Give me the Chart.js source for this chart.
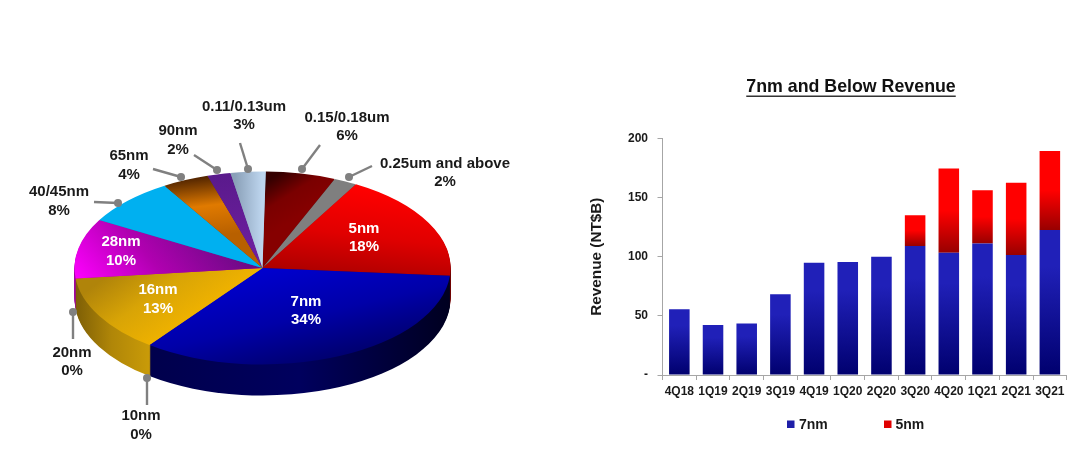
<!DOCTYPE html>
<html>
<head>
<meta charset="utf-8">
<style>
  html, body { margin: 0; padding: 0; background: #fff; overflow: hidden; }
  #page { position: relative; width: 1080px; height: 449px; }
  canvas { position: absolute; top: 0; }
  #pie-chart { left: 0; }
  #bar-chart { left: 580px; }
</style>
</head>
<body>
<div id="page">
  <canvas id="pie-chart" width="525" height="449"></canvas>
  <canvas id="bar-chart" width="500" height="449"></canvas>
</div>
<script src="https://cdn.jsdelivr.net/npm/chart.js@4"></script>
<script>
// Pie data, clockwise from 12 o'clock
const nodes = ['0.15/0.18um', '0.25um and above', '5nm', '7nm', '16nm', '20nm', '10nm', '28nm', '40/45nm', '65nm', '90nm', '0.11/0.13um'];
const shares = [6, 2, 18, 34, 13, 0, 0, 10, 8, 4, 2, 3];

// Bar data
const quarters = ['4Q18', '1Q19', '2Q19', '3Q19', '4Q19', '1Q20', '2Q20', '3Q20', '4Q20', '1Q21', '2Q21', '3Q21'];
const revenue7nm = [55.5, 42.2, 43.6, 68.2, 94.9, 95.5, 100, 109, 103.4, 111.2, 101.4, 122.5];
const revenue5nm = [0, 0, 0, 0, 0, 0, 0, 26, 71, 45, 61, 66.8];

const FONT = '"Liberation Sans", Arial, sans-serif';
const TEXT = '#1a1a1a';

// Pie is a flat Chart.js pie squashed into an ellipse and stacked for depth
const PIE_RADIUS = 188;
const PIE_SQUASH = 96.5 / 188;
const PIE_CENTER_Y = 268;
const PIE_DEPTH = 31;
const CANVAS_MID_Y = 449 / 2;

const pieCtx = document.getElementById('pie-chart').getContext('2d');

// gradient given in page pixels, converted to the unsquashed space the arcs are drawn in
function pieGradient(x0, y0, x1, y1, stops) {
    const toFlat = y => CANVAS_MID_Y + (y - PIE_CENTER_Y) / PIE_SQUASH;
    const g = pieCtx.createLinearGradient(x0, toFlat(y0), x1, toFlat(y1));
    stops.forEach((c, i) => g.addColorStop(i / (stops.length - 1), c));
    return g;
}

const sliceColors = [
    pieGradient(272, 178, 325, 200, ['#340000', '#7a0000', '#860000']),
    '#7f7f7f',
    pieGradient(385, 190, 345, 282, ['#ff0000', '#e00000', '#a60000']),
    pieGradient(245, 268, 335, 372, ['#0000d2', '#0000a8', '#00005e']),
    pieGradient(95, 285, 190, 320, ['#b0840a', '#d8a406', '#efb200']),
    '#c89a08',
    '#c89a08',
    pieGradient(80, 285, 235, 250, ['#ff00ff', '#b000b0', '#6e0a86']),
    '#00b0f0',
    pieGradient(195, 176, 222, 235, ['#4a2000', '#e07a00', '#b86000']),
    pieGradient(225, 175, 255, 260, ['#5a1a8c', '#6f1fa0']),
    pieGradient(235, 200, 262, 200, ['#8aa0b8', '#bdd5ee'])
];

const sideColors = [
    '#4a0000', '#555555', '#700000',
    pieGradient(148, 0, 450, 0, ['#00004c', '#00005e', '#000020']),
    pieGradient(75, 0, 148, 0, ['#7d5e06', '#b08608', '#c89a08']),
    '#c89a08', '#c89a08', '#a000a0', '#007fb0', '#804000', '#4a1070', '#7a90a8'
];

// label text positions in page pixels
const labelPlaces = {
    '0.15/0.18um': [347, 118, 136],
    '0.25um and above': [445, 164, 182],
    '5nm': [364, 229, 247],
    '7nm': [306, 302, 320],
    '16nm': [158, 290, 309],
    '20nm': [72, 353, 371],
    '10nm': [141, 416, 435],
    '28nm': [121, 242, 261],
    '40/45nm': [59, 192, 211],
    '65nm': [129, 156, 175],
    '90nm': [178, 131, 150],
    '0.11/0.13um': [244, 107, 125]
};
const whiteLabels = ['5nm', '7nm', '16nm', '28nm'];

// leader lines: outer end, then the dot on the pie
const leaders = [
    [372, 166, 349, 177], [320, 145, 302, 169], [240, 143, 248, 169], [194, 155, 217, 170],
    [153, 169, 181, 177], [94, 202, 118, 203], [73, 339, 73, 312], [147, 405, 147, 378]
];

const pieDepthPlugin = {
    id: 'pieDepth',
    beforeDatasetsDraw(chart) {
        const ctx = chart.ctx;
        const arcs = chart.getDatasetMeta(0).data;
        ctx.save();
        ctx.translate(0, PIE_CENTER_Y);
        ctx.scale(1, PIE_SQUASH);
        ctx.translate(0, -CANVAS_MID_Y);
        for (let d = PIE_DEPTH; d > 0; d--) {
            ctx.save();
            ctx.translate(0, d / PIE_SQUASH);
            arcs.forEach((arc, i) => {
                const keep = arc.options;
                arc.options = Object.assign({}, keep, { backgroundColor: sideColors[i] });
                arc.draw(ctx);
                arc.options = keep;
            });
            ctx.restore();
        }
    },
    afterDatasetsDraw(chart) {
        chart.ctx.restore();
    },
    afterDraw(chart) {
        const ctx = chart.ctx;
        ctx.save();
        ctx.strokeStyle = '#808080';
        ctx.fillStyle = '#808080';
        ctx.lineWidth = 2.4;
        leaders.forEach(([x0, y0, x1, y1]) => {
            ctx.beginPath();
            ctx.moveTo(x0, y0);
            ctx.lineTo(x1, y1);
            ctx.stroke();
            ctx.beginPath();
            ctx.arc(x1, y1, 4, 0, Math.PI * 2);
            ctx.fill();
        });
        ctx.font = 'bold 15px ' + FONT;
        ctx.textAlign = 'center';
        ctx.textBaseline = 'middle';
        nodes.forEach((name, i) => {
            const [x, y0, y1] = labelPlaces[name];
            ctx.fillStyle = whiteLabels.includes(name) ? '#ffffff' : TEXT;
            ctx.fillText(name, x, y0);
            ctx.fillText(shares[i] + '%', x, y1);
        });
        ctx.restore();
    }
};

new Chart(pieCtx, {
    type: 'pie',
    data: {
        labels: nodes,
        datasets: [{
            data: shares,
            backgroundColor: sliceColors,
            borderWidth: 0,
            radius: PIE_RADIUS,
            clip: false
        }]
    },
    options: {
        responsive: false,
        animation: false,
        rotation: 1,
        radius: PIE_RADIUS,
        plugins: { legend: { display: false }, tooltip: { enabled: false } }
    },
    plugins: [pieDepthPlugin]
});

// Bars get their own top-to-bottom fade
function barFill(topColor, bottomColor, holdUntil, baseOf) {
    return context => {
        if (context.type !== 'data') return topColor;
        const y = context.chart.scales.y;
        const i = context.dataIndex;
        const base = baseOf(i);
        const top = y.getPixelForValue(base + context.dataset.data[i]);
        const bottom = y.getPixelForValue(base);
        // scales have no pixels yet on the first pass
        if (!isFinite(top) || !isFinite(bottom)) return topColor;
        const g = context.chart.ctx.createLinearGradient(0, top, 0, bottom);
        g.addColorStop(0, topColor);
        g.addColorStop(holdUntil, topColor);
        g.addColorStop(1, bottomColor);
        return g;
    };
}

const barExtrasPlugin = {
    id: 'barExtras',
    afterDraw(chart) {
        const ctx = chart.ctx;
        const originX = 580;
        ctx.save();
        // title with underline
        ctx.font = 'bold 17.8px ' + FONT;
        ctx.fillStyle = '#111111';
        ctx.textAlign = 'center';
        ctx.textBaseline = 'middle';
        const title = '7nm and Below Revenue';
        ctx.fillText(title, 851 - originX, 87);
        const w = ctx.measureText(title).width;
        ctx.fillStyle = '#333333';
        ctx.fillRect(851 - originX - w / 2, 95.5, w, 1.5);
        // legend
        [[791, 799, '#1f1fa8'], [888, 895.5, '#e00000']].forEach(([boxX, textX, color], i) => {
            ctx.fillStyle = color;
            ctx.fillRect(boxX - originX - 4, 420.5, 7.5, 7.5);
            ctx.fillStyle = TEXT;
            ctx.font = 'bold 14px ' + FONT;
            ctx.textAlign = 'left';
            ctx.fillText(chart.data.datasets[i].label, textX - originX, 425);
        });
        ctx.restore();
    }
};

new Chart(document.getElementById('bar-chart').getContext('2d'), {
    type: 'bar',
    data: {
        labels: quarters,
        datasets: [
            {
                label: '7nm',
                data: revenue7nm,
                backgroundColor: barFill('#2020b8', '#00006e', 0.25, () => 0)
            },
            {
                label: '5nm',
                data: revenue5nm,
                backgroundColor: barFill('#ff0000', '#980000', 0.5, i => revenue7nm[i])
            }
        ]
    },
    options: {
        responsive: false,
        animation: false,
        categoryPercentage: 1,
        barPercentage: 0.61,
        layout: { padding: { top: 138.3, right: 13.3 } },
        scales: {
            x: {
                stacked: true,
                afterFit(scale) { scale.height = 74; },
                border: { color: '#a6a6a6', width: 1 },
                grid: { drawOnChartArea: false, color: '#a6a6a6', tickLength: 5 },
                ticks: { color: TEXT, font: { family: FONT, size: 12, weight: 'bold' }, padding: 4, maxRotation: 0, autoSkip: false }
            },
            y: {
                stacked: true,
                min: 0,
                max: 200,
                afterFit(scale) { scale.width = 82.5; },
                border: { color: '#a6a6a6', width: 1 },
                grid: { drawOnChartArea: false, color: '#a6a6a6', tickLength: 5 },
                ticks: {
                    stepSize: 50,
                    color: TEXT,
                    padding: 9.5,
                    font: { family: FONT, size: 12, weight: 'bold' },
                    callback: value => value === 0 ? '-' : value
                },
                title: {
                    display: true,
                    text: 'Revenue (NT$B)',
                    color: TEXT,
                    font: { family: FONT, size: 15.3, weight: 'bold' },
                    padding: { top: 8, bottom: 0 }
                }
            }
        },
        plugins: { legend: { display: false }, tooltip: { enabled: false } }
    },
    plugins: [barExtrasPlugin]
});
</script>
</body>
</html>
